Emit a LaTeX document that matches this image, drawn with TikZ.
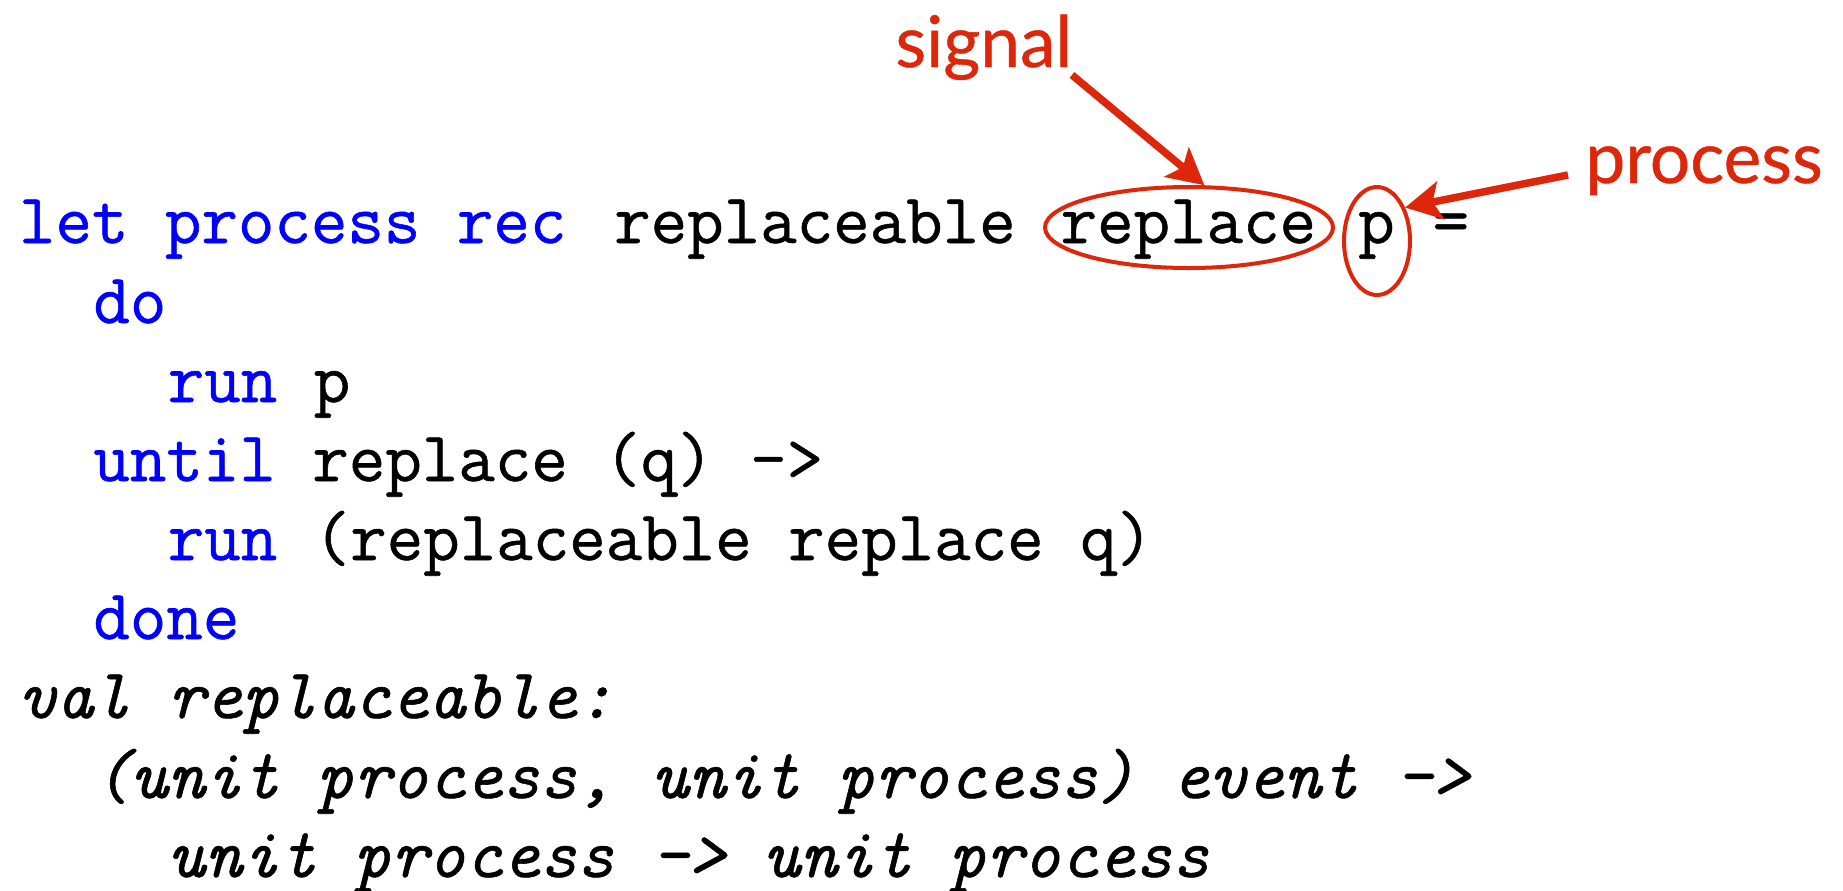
\documentclass[tikz,border=0pt]{standalone}
\usepackage{fontspec}
\newfontfamily\notefont{Lato}[FakeBold=0.6]
\newfontfamily\codefont{Latin Modern Mono}[FakeBold=0.8]
\usetikzlibrary{arrows.meta,shapes.geometric}
\definecolor{kwblue}{RGB}{0,0,255}
\definecolor{notered}{RGB}{222,38,10}
\begin{document}
\begin{tikzpicture}[x=0.5pt,y=-0.5pt,
  code/.style={anchor=base west, inner sep=0pt, outer sep=0pt,
    font=\fontsize{35.43}{39}\selectfont\codefont},
  sig/.style={code, font=\fontsize{35.43}{39}\selectfont\codefont\itshape},
  note/.style={anchor=base west, inner sep=0pt, text=notered,
    font=\fontsize{35.6}{40}\selectfont\notefont},
  oval/.style={draw=notered, line width=2pt, ellipse, inner sep=0pt},
  pointer/.style={draw=notered, line width=3.75pt,
    -{Stealth[length=18pt,width=19pt,inset=4pt]}}
]
\path[use as bounding box] (0,0) rectangle (1843,890);

% code, one node per line (columns are 37.2 units wide, starting at 19)
\node[code] (l1a) at (19,243)     {\color{kwblue}let process rec};
\node[code] (l1b) at (614.2,243)  {replaceable};
\node[code] (replace) at (1060.6,243) {replace};
\node[code] (pname) at (1358.2,243) {p};
\node[code] (eq) at (1432.6,243)  {=};
\node[code] (l2) at (93.4,323)    {\color{kwblue}do};
\node[code] (l3) at (167.8,402)   {{\color{kwblue}run} p};
\node[code] (l4) at (93.4,481)    {{\color{kwblue}until} replace (q) ->};
\node[code] (l5) at (167.8,560)   {{\color{kwblue}run} (replaceable replace q)};
\node[code] (l6) at (93.4,639)    {\color{kwblue}done};

% inferred type
\node[sig] (t1) at (19,718)    {val replaceable:};
\node[sig] (t2) at (93.4,798)  {(unit process, unit process) event ->};
\node[sig] (t3) at (167.8,877) {unit process -> unit process};

% annotations
\node[oval, minimum width=144pt, minimum height=40.5pt] (sigoval) at (1189,227.5) {};
\node[oval, minimum width=33pt, minimum height=54pt] (procoval) at (1377,241) {};

\node[note] (siglabel) at (895,67) {signal};
\node[note] (proclabel) at (1585,183) {process};

\coordinate (sigtail) at (1072,75);
\coordinate (proctail) at (1568,175);

\draw[pointer] (sigtail) -- (sigoval.70);
\draw[pointer] (proctail) -- (procoval.50);
\end{tikzpicture}
\end{document}
